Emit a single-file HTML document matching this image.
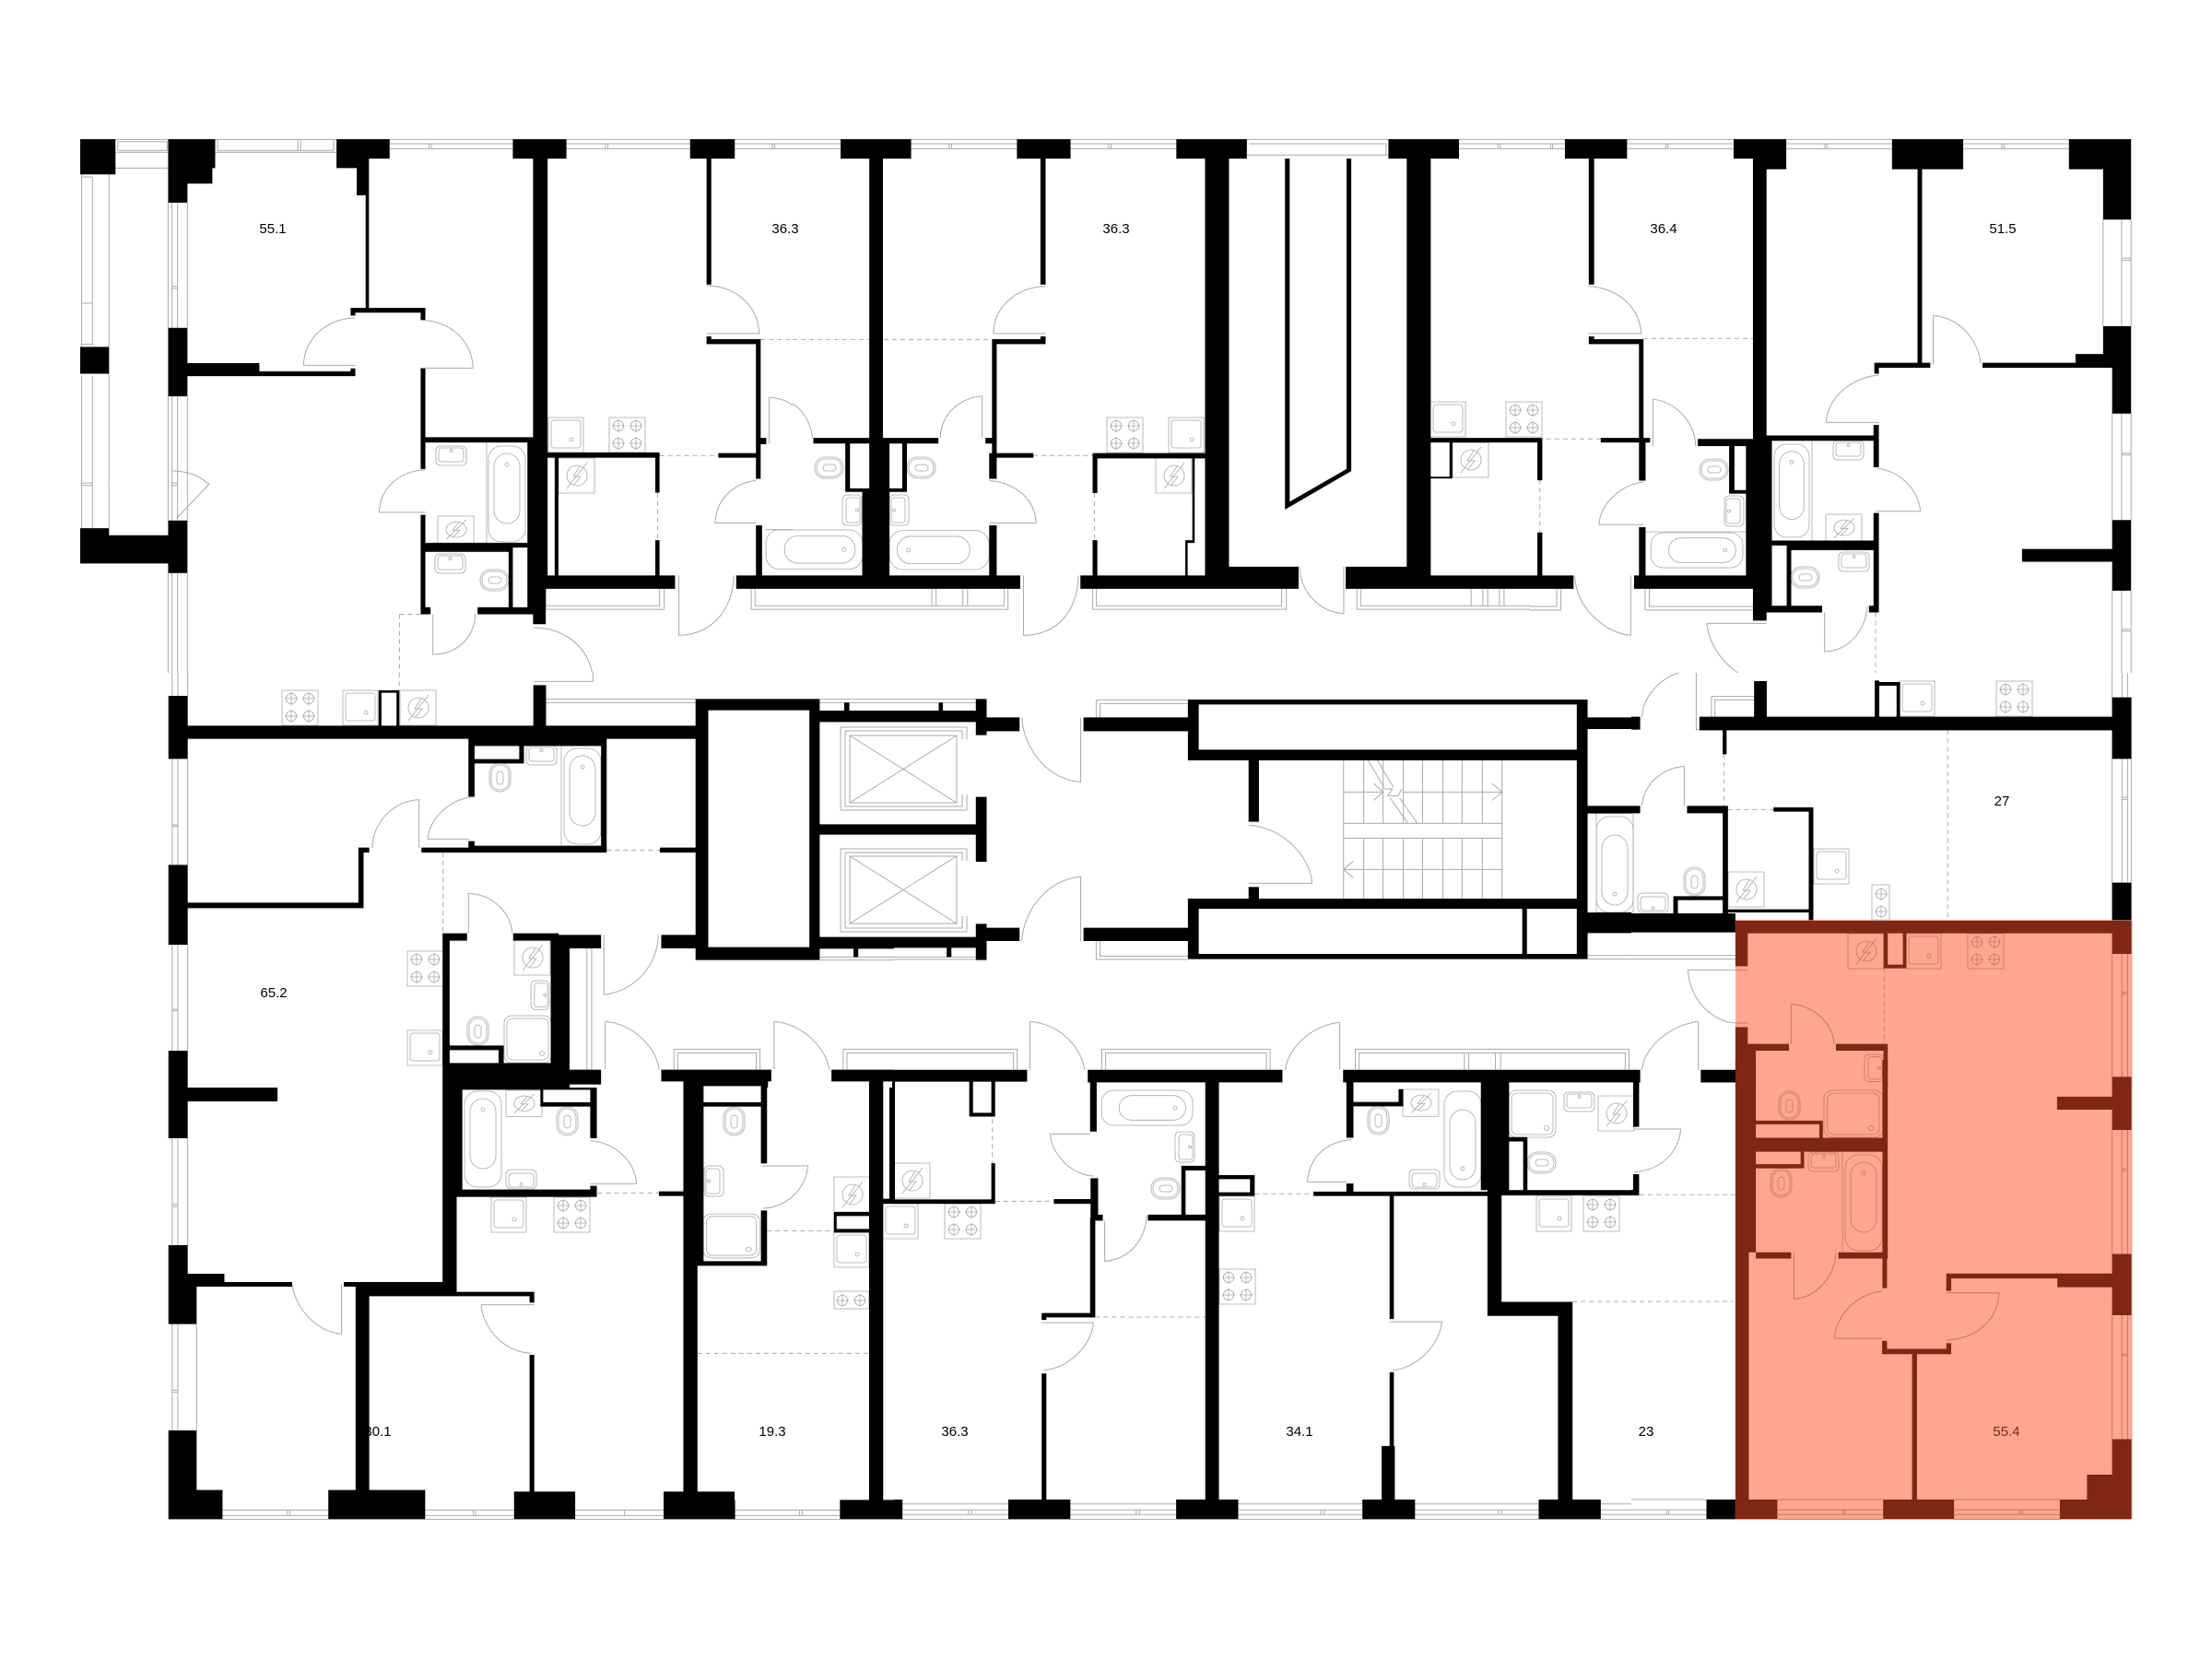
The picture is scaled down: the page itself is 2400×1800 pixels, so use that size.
<!DOCTYPE html>
<html><head><meta charset="utf-8"><style>
html,body{margin:0;padding:0;background:#fff}
svg{display:block}
svg *{vector-effect:non-scaling-stroke}
text{font-family:"Liberation Sans",sans-serif;font-size:15px;text-anchor:middle}
.l{fill:none;stroke:#aaa;stroke-width:1}
.d{fill:none;stroke:#aaa;stroke-width:1;stroke-dasharray:5 4}
.f{fill:none;stroke:#a8a8a8;stroke-width:.8}
.w{fill:#000;stroke:none}
.b{fill:#7f2714;stroke:none}
.rl{fill:none;stroke:#c97562;stroke-width:1}
.rd{fill:none;stroke:#c97562;stroke-width:1;stroke-dasharray:5 4}
.rf{fill:none;stroke:#c97562;stroke-width:.8}
</style></head><body>
<svg width="2400" height="1800" viewBox="0 0 2400 1800" xmlns="http://www.w3.org/2000/svg">
<defs>
<g id="br"><circle r="5.6"/><path d="M-7 0H7M0-7V7"/></g>
<g id="hob"><rect width="39" height="38"/><use href="#br" x="10" y="9"/><use href="#br" x="29" y="9"/><use href="#br" x="10" y="28"/><use href="#br" x="29" y="28"/></g>
<g id="sink"><rect width="38" height="38"/><rect x="3" y="3" width="32" height="30" rx="3"/><circle cx="25" cy="24" r="2"/></g>
<g id="el"><rect width="39" height="38"/><circle cx="20" cy="19" r="11"/><path d="M9 33L31 5M23 9L16 20H24L17 29"/></g>
<g id="wc"><rect width="31" height="23" rx="11"/><rect x="2" y="2" width="27" height="19" rx="9"/><rect x="9" y="8" width="14" height="7" rx="3.5"/></g>
<g id="bs"><rect width="33" height="21" rx="5"/><rect x="3" y="2" width="27" height="15" rx="3"/><circle cx="16.500" cy="5" r="1.500"/></g>
<g id="tub"><rect width="40" height="104" rx="14"/><rect x="6" y="8" width="28" height="76" rx="14"/><circle cx="20" cy="20" r="2"/></g>
<g id="sh"><rect width="51" height="51" rx="8"/><rect x="3" y="3" width="45" height="45" rx="6"/><circle cx="41" cy="41" r="2.500"/></g>
</defs>

<rect x="1883" y="998" width="430.500" height="650" fill="#ffa691"/>

<text x="296" y="253">55.1</text>
<text x="852" y="253">36.3</text>
<text x="1211" y="253">36.3</text>
<text x="1805" y="253">36.4</text>
<text x="2173" y="253">51.5</text>
<text x="297" y="1082">65.2</text>
<text x="410" y="1558">30.1</text>
<text x="838" y="1558">19.3</text>
<text x="1036" y="1558">36.3</text>
<text x="1410" y="1558">34.1</text>
<text x="1786" y="1558">23</text>
<text x="2172" y="874">27</text>
<text x="2177" y="1558" fill="#7f2714">55.4</text>

<!-- fixtures (global coords) -->
<g class="f">
<use href="#sink" x="595" y="453"/><use href="#hob" x="661" y="453"/><use href="#el" x="606" y="497"/>
<use href="#bs" x="473" y="484"/><use href="#wc" x="521" y="618"/><use href="#bs" x="472" y="601"/>
<use href="#tub" x="530" y="484"/><use href="#el" transform="translate(475,560) scale(1,.77)"/>
<path d="M528 480V589M468 589H578"/>

<use href="#hob" x="1201" y="453"/><use href="#sink" x="1268" y="453"/><use href="#el" x="1254" y="497"/>
<use href="#wc" x="884" y="496"/><use href="#wc" x="984" y="496"/>
<use href="#bs" transform="translate(935,537) rotate(90)"/><use href="#bs" transform="translate(965,570) rotate(-90)"/>
<use href="#tub" transform="translate(936,575) rotate(90) scale(1.060,1.010)"/><use href="#tub" transform="translate(965,618) rotate(-90) scale(1.060,1.040)"/>
<use href="#sink" x="1552" y="436"/><use href="#hob" x="1634" y="436"/><use href="#el" x="1576" y="480"/>

<use href="#wc" x="1844" y="498"/><use href="#wc" x="1943" y="615"/>
<use href="#bs" transform="translate(1871,571) rotate(-90)"/>
<use href="#tub" transform="translate(1891,578) rotate(90) scale(.950,.960)"/><use href="#tub" transform="translate(1925,482) scale(.950,.970)"/>
<use href="#bs" x="1989" y="478"/><use href="#bs" x="1995" y="599"/><use href="#el" transform="translate(1981,558) scale(1,.77)"/>
<path d="M1966 478V587M1785 577H1895"/>

<use href="#hob" x="306" y="749"/><use href="#sink" x="372" y="749"/><use href="#el" x="434" y="749"/>
<use href="#bs" x="571" y="809"/><use href="#tub" x="612" y="812" transform="translate(0,0)"/>
<use href="#wc" transform="translate(554,828) rotate(90)"/>
<path d="M609 809V917"/>
<use href="#hob" x="442" y="1032"/><use href="#sink" x="442" y="1118"/><use href="#el" x="558" y="1020"/>
<use href="#bs" transform="translate(596,1064) rotate(90) scale(.950,.950)"/><use href="#wc" transform="translate(530,1103) rotate(90)"/>
<use href="#sh" x="547" y="1102"/>

<use href="#tub" x="504" y="1184"/><use href="#el" transform="translate(549,1183) scale(1,.75)"/>
<use href="#wc" transform="translate(627,1201) rotate(90)"/><use href="#bs" transform="translate(582,1290) rotate(180)"/>
<use href="#sink" x="533" y="1299"/><use href="#hob" x="601" y="1299"/>
<use href="#wc" transform="translate(808,1201) rotate(90)"/><use href="#bs" transform="translate(764,1298) rotate(-90)"/>
<use href="#sh" transform="translate(763,1317) scale(1.200,.940)"/>
<use href="#el" x="905" y="1277"/><use href="#sink" x="905" y="1337"/>
<rect x="905" y="1401" width="38" height="19"/><use href="#br" x="914" y="1411"/><use href="#br" x="933" y="1411"/>

<use href="#el" x="970" y="1262"/><use href="#sink" x="958" y="1306"/><use href="#hob" x="1025" y="1306"/>
<use href="#tub" transform="translate(1294,1183) rotate(90) scale(.950,.950)"/>
<use href="#bs" transform="translate(1296,1228) rotate(90)"/><use href="#wc" x="1249" y="1278"/>
<use href="#sink" x="1323" y="1298"/><use href="#hob" x="1323" y="1377"/>
<use href="#el" transform="translate(1522,1182) scale(1,.77)"/><use href="#wc" transform="translate(1507,1200) rotate(90)"/>
<use href="#tub" transform="translate(1607,1288) rotate(180)"/><use href="#bs" transform="translate(1562,1290) rotate(180)"/>
<use href="#sh" x="1637" y="1183"/><use href="#bs" x="1697" y="1185"/><use href="#el" x="1734" y="1189"/>
<use href="#wc" x="1657" y="1250"/><use href="#sink" x="1667" y="1298"/><use href="#hob" x="1718" y="1298"/>

<use href="#tub" transform="translate(1772,990) rotate(180)"/><rect x="1732" y="882" width="40" height="108"/>
<use href="#sink" x="2061" y="739"/><use href="#hob" x="2166" y="739"/>
<use href="#sink" x="1968" y="921"/>
<rect x="2031" y="960" width="19" height="38"/><use href="#br" x="2041" y="970"/><use href="#br" x="2041" y="989"/>
<use href="#el" x="1875" y="946"/><use href="#wc" transform="translate(1850,941) rotate(90)"/><use href="#bs" transform="translate(1810,990) rotate(180)"/>
</g>

<!-- elevators -->
<g class="l">
<path d="M1049 802V789H912V879H1049V862M1044 802V793H917V875H1044V862"/>
<rect x="922" y="798" width="116" height="73"/><path d="M922 798L1038 871M1038 798L922 871"/>
<path d="M1049 934V921H912V1011H1049V994M1044 934V925H917V1007H1044V994"/>
<rect x="922" y="929" width="116" height="73"/><path d="M922 929L1038 1002M1038 929L922 1002"/>
</g>

<!-- red fixtures -->
<g class="rf">
<use href="#el" x="2005" y="1013"/><use href="#sink" x="2068" y="1013"/><use href="#hob" x="2135" y="1013"/>
<use href="#bs" transform="translate(2044,1144) rotate(90) scale(.900,1)"/>
<use href="#wc" transform="translate(1953,1184) rotate(90)"/>
<use href="#sh" transform="translate(1979,1183) scale(1.250,1)"/>
<use href="#bs" x="1962" y="1250"/><use href="#tub" x="2002" y="1253" /><use href="#wc" transform="translate(1944,1268) rotate(90)"/>
<path d="M1999 1250V1358"/>
</g>

<!-- crop 1 -->
<g transform="translate(60,130) scale(.5102,.38265)">
<path class="l" d="M128 56H240M128 92H240M133 62H238V87H133ZM114 137H240M114 137V1178M340 56H598M340 92H598M345 56V87H592V56M516 56V87M522 56V87M711 56H973M711 82H973M711 68H973M795 68V82M800 68V82M1087 56H1350M1087 82H1350M1087 68H1350M1170 68V82M1175 68V82M1445 56H1568M1445 68H1568M1445 82H1568M1530 68V82M1525 68V82M56 155V644M79 162V640M56 162H79M56 520H79M56 636H79M56 725V1158M79 725V1158M56 1030H79M56 1037H79M248 235V590M260 235V590M248 472H260M248 478H260M248 784V1136M260 784V1136M248 1030H260M248 1037H260M240 235V590M240 784V1136M248 1285V1568M260 1285V1568M281 235V590M281 784V1136M281 1285V1568M240 1285V1568M250 996C290 996 310 1015 327 1033L258 1130M638 562A110 135 0 0 0 528 696H638M777 568A110 135 0 0 1 888 704H777M787 993A98 120 0 0 0 689 1113H787M893 1400C893 1460 860 1515 803 1516V1402M1017 1440C1080 1440 1130 1490 1142 1568M1326 1292V1462C1390 1460 1440 1400 1443 1292M1385 470C1450 472 1495 530 1497 606H1385M1490 1023C1440 1030 1405 1080 1403 1143H1490M1518 787V918M1518 787C1545 790 1560 800 1568 810M1043 1330V1388H1295V1330M1043 1378H1285V1330M1480 1330V1388H1568M1488 1330V1378H1568M1510 1162H1568"/>
<path class="d" d="M1285 952H1410M1281 1057V1192M1500 623H1568M732 1402H777M732 1402V1568"/>
<path class="w" d="M53 55H128V155H53ZM53 644H114V720H53ZM53 1158H114V1258H53ZM114 1178H281V1258H114ZM240 1136H281V1285H240ZM240 55H340V137H240ZM240 137H334V181H240ZM240 181H281V235H240ZM240 590H281V784H240ZM281 690H434V727H281ZM434 713H638V727H434ZM628 705H638V727H628ZM598 55H711V110H598ZM598 110H667V137H598ZM641 137H667V214H641ZM660 214H667V533H660ZM628 533H787V547H628ZM628 533H638V555H628ZM777 533H787V567H777ZM777 705H787V990H777ZM777 900H1016V915H777ZM973 55H1087V110H973ZM1016 110H1047V958H1016ZM1004 915H1047V1292H1004ZM1016 1292H1043V1430H1016ZM1047 943H1285V958H1047ZM1062 958H1070V1292H1062ZM1276 958H1285V1057H1276ZM1276 1192H1285V1292H1276ZM1043 1292H1318V1330H1043ZM1004 1292H1043V1382H1004ZM777 1120H787V1382H777ZM787 1200H1004V1213H787ZM787 1213H973V1225H787ZM964 1225H973V1382H964ZM777 1382H798V1402H777ZM898 1382H1016V1402H898ZM1350 55H1445V110H1350ZM1385 110H1395V467H1385ZM1385 622H1500V636H1385ZM1385 614H1395V636H1385ZM1490 622H1500V1018H1490ZM1410 945H1490V958H1410ZM1490 902H1512V920H1490ZM1490 1150H1503V1292H1490ZM1448 1292H1568V1330H1448Z"/>
</g>

<!-- crop 2 -->
<g transform="translate(860,130) scale(.5102,.38265)">
<path class="l" d="M0 56H102M0 68H102M0 82H102M252 56H477M252 68H477M252 82H477M333 68V82M338 68V82M591 56H816M591 68H816M591 82H816M672 68V82M677 68V82M966 56H1267M966 100H1267M972 68H1262V100H972M1417 56H1568M1417 68H1568M1417 82H1568M1500 68V82M1505 68V82M458 1330V1388H0M450 1330V1378H0M296 1330V1378M305 1330V1378M362 1330V1378M372 1330V1378M638 1330V1388H1050V1330M646 1330V1378H1040V1330M1200 1330V1388H1568M1208 1330V1378H1568M1443 1330V1378M1468 1330V1378M1478 1330V1378M1503 1330V1378M1513 1330V1378M0 805C20 820 40 860 42 902M403 783C350 790 315 840 314 902M403 783V902M538 472C475 475 428 530 427 606H538M418 1023C480 1030 515 1080 518 1143H418M491 1292V1462C560 1460 605 1400 608 1292M1078 1267C1080 1340 1120 1395 1172 1400V1267"/>
<path class="d" d="M0 623H424M512 952H638M642 1058V1192"/>
<path class="w" d="M102 55H252V110H102ZM163 110H192V918H163ZM163 918H206V1045H163ZM148 1045H206V1292H148ZM44 902H310V918H44ZM112 918H122V1055H112ZM112 1045H148V1055H112ZM233 918H243V1055H233ZM206 1045H243V1055H206ZM0 1292H484V1330H0ZM477 55H591V110H477ZM527 110H538V467H527ZM424 622H538V636H424ZM527 614H538V636H527ZM424 622H434V958H424ZM418 945H434V1018H418ZM410 902H434V918H410ZM434 945H512V958H434ZM418 1150H434V1292H418ZM638 945H878V960H638ZM638 960H648V1058H638ZM638 1192H648V1292H638ZM612 1292H1076V1330H612ZM850 960H855V1195H850ZM835 1192H855V1200H835ZM835 1200H840V1292H835ZM877 110H928V1292H877ZM928 1267H1076V1292H928ZM816 55H966V110H816ZM1267 55H1417V110H1267ZM1306 110H1357V1292H1306ZM1176 1267H1357V1330H1176ZM1176 1292H1568V1330H1176ZM1357 902H1568V915H1357ZM1397 915H1403V1015H1397ZM1357 1012H1403V1017H1357ZM1047 110H1057V1083L1178 990V110H1188V996L1047 1105Z"/>
</g>

<!-- crop 3 -->
<g transform="translate(1660,130) scale(.4464,.38265)">
<path class="l" d="M0 56H85M0 68H85M0 82H85M55 68V82M50 68V82M236 56H495M236 68H495M236 82H495M330 68V82M335 68V82M623 56H880M623 68H880M623 82H880M717 68V82M722 68V82M1053 56H1310M1053 68H1310M1053 82H1310M1147 68V82M1152 68V82M1438 283V585M1461 283V585M1393 283V585M1438 392H1461M1438 398H1461M1415 833V1135M1438 833V1135M1461 833V1135M1438 945H1461M1438 950H1461M1415 1335V1568M1438 1335V1568M1461 1335V1568M1438 1445H1461M1438 1450H1461M142 472C210 475 268 530 270 606H142M980 555C1040 560 1090 620 1095 690M980 555V695M848 724C780 730 722 790 720 858H848M841 988C900 995 945 1050 949 1110H841M275 1027C220 1035 170 1090 168 1148H275M299 792C350 800 400 850 403 925M299 792V925M109 1292C110 1380 180 1455 245 1462V1292M716 1397V1508C775 1505 815 1450 820 1380M430 1428C435 1490 470 1540 505 1568M430 1428H575M280 1330V1390H543M290 1330V1380H543M75 1330V1390H0M65 1330V1380H0"/>
<path class="d" d="M275 620H542M40 905H172M24 1020V1170M840 1397V1568"/>
<path class="w" d="M85 55H236V110H85ZM143 110H156V467H143ZM143 614H156V636H143ZM143 622H276V636H143ZM265 636H276V915H265ZM172 902H292V915H172ZM265 915H281V1023H265ZM265 1155H281V1292H265ZM253 1292H543V1330H253ZM0 1292H106V1330H0ZM18 905H30V1022H18ZM0 902H30V915H0ZM18 1170H30V1292H18ZM495 55H623V110H495ZM542 110H623V140H542ZM542 140H575V1420H542ZM408 905H542V925H408ZM484 925H497V1060H484ZM484 1050H525V1060H484ZM525 925H575V1292H525ZM575 895H588V1378H575ZM575 895H848V910H575ZM835 865H848V985H835ZM835 1115H848V1397H835ZM588 1193H835V1207H588ZM624 1207H835V1220H624ZM624 1207H635V1378H624ZM575 1378H710V1397H575ZM824 1378H848V1397H824ZM880 55H1053V140H880ZM942 140H953V690H942ZM837 689H973V703H837ZM837 703H848V720H837ZM1100 689H1326V703H1100ZM1326 664H1415V703H1326ZM1393 585H1461V664H1393ZM1415 664H1461V833H1415ZM1310 55H1461V140H1310ZM1393 140H1461V283H1393ZM1415 1135H1461V1335H1415ZM1196 1217H1415V1253H1196Z"/>
</g>

<!-- crop 4 -->
<g transform="translate(170,730) scale(.5102,.33333)">
<path class="l" d="M33 0V75M45 0V75M66 0V75M33 280V625M45 280V625M66 280V625M33 495H45M33 500H45M33 885V1230M45 885V1230M66 885V1230M33 1095H45M33 1100H45M928 0V28H801M828 85H1146M828 97H1146M1410 86H1568M1410 97H1568M1410 925H1568M1410 935H1568M558 413C500 418 460 490 458 570M558 413V570M676 403C620 410 578 480 577 541H664M663 718C720 722 755 790 756 848M663 718V848M951 853V1047C1010 1040 1065 960 1067 853M954 1135C1010 1140 1065 1220 1068 1292M954 1135V1290M1313 1135C1370 1140 1425 1220 1430 1292M1313 1135V1290M1100 1292V1225H1283V1292M1108 1292V1237H1275V1292M1460 1292V1225H1568M1468 1292V1237H1568M915 897V1292M925 897V1292"/>
<path class="d" d="M957 577H1070M609 585V848M516 0V57"/>
<path class="w" d="M25 75H66V280H25ZM66 172H1146V215H66ZM801 40H828V172H801ZM472 57H478V172H472ZM472 57H516V65H472ZM510 57H516V172H510ZM663 215H676V403H663ZM663 215H957V238H663ZM771 238H781V295H771ZM663 281H781V295H663ZM945 215H957V585H945ZM663 563H957V585H663ZM663 548H676V563H663ZM563 569H663V585H563ZM1070 569H1146V585H1070ZM25 625H66V885H25ZM66 748H440V766H66ZM429 569H440V766H429ZM429 569H452V585H429ZM25 1230H66V1350H25ZM1146 85H1410V122H1146ZM1146 122H1173V893H1146ZM1388 122H1410V893H1388ZM1146 893H1410V935H1146ZM1410 123H1568V160H1410ZM1410 493H1568V527H1410ZM1410 860H1568V898H1410ZM1462 97H1473V123H1462ZM1482 898H1492V925H1482ZM1073 853H1146V897H1073ZM608 848H660V872H608ZM758 848H855V872H758ZM608 848H623V1350H608ZM855 853H945V897H855ZM838 870H878V1290H838ZM623 1213H738V1228H623ZM727 1228H738V1270H727ZM608 1270H878V1350H608ZM878 1292H945V1340H878ZM1073 1292H1307V1330H1073ZM1120 1330H1163V1350H1120ZM1285 1330H1300V1350H1285ZM1120 1330H1300V1345H1120ZM1435 1292H1568V1330H1435ZM1515 1330H1545V1350H1515Z"/>
</g>

<!-- crop 5 -->
<g transform="translate(170,1180) scale(.5102,.33333)">
<path class="l" d="M33 165V513M45 165V513M66 165V513M33 380H45M33 387H45M33 771V1116M45 771V1116M85 771V1116M33 985H45M33 992H45M922 173C980 180 1020 250 1020 313H922M288 640C295 720 340 795 393 802V640M690 707H803M690 707C695 790 740 860 797 865M1287 255H1385C1380 330 1340 390 1290 393M140 1375H365M140 1393H365M140 1405H365M278 1375V1393M283 1375V1393M571 1375H760M571 1393H760M571 1405H760M673 1375V1393M678 1375V1393M890 1375H1078M890 1393H1078M890 1405H1078M995 1375V1393M1230 1375H1453M1230 1393H1453M1230 1405H1453M1367 1375V1393M1373 1375V1393"/>
<path class="d" d="M938 343H1068M1298 466H1440M1150 865H1515"/>
<path class="w" d="M25 0H66V165H25ZM66 0H257V45H66ZM25 513H66V770H25ZM25 606H144V648H25ZM25 648H85V770H25ZM144 633H288V648H144ZM398 633H428V648H398ZM423 648H452V1310H423ZM423 633H638V679H423ZM608 0H638V665H608ZM638 665H803V679H638ZM793 665H803V700H793ZM793 870H803V1315H793ZM25 1310H140V1405H25ZM25 1116H85V1310H25ZM365 1310H571V1405H365ZM760 1315H890V1405H760ZM1078 1315H1229V1405H1078ZM1120 0H1150V1342H1120ZM1150 1342H1230V1405H1150ZM1453 1342H1568V1405H1453ZM1515 0H1545V1342H1515ZM608 0H650V332H608ZM608 332H936V356H608ZM650 0H936V7H650ZM922 0H936V165H922ZM816 48H936V62H816ZM816 7H822V62H816ZM922 320H936V356H922ZM1068 338H1120V353H1068ZM1150 0H1163V565H1150ZM1285 0H1298V247H1285ZM1163 48H1285V62H1163ZM1285 400H1298V580H1285ZM1150 565H1298V580H1150ZM1440 405H1446V472H1440ZM1440 405H1515V418H1440ZM1440 460H1515V472H1440ZM1545 362H1568V378H1545ZM1558 0H1568V362H1558Z"/>
</g>

<!-- crop 6 -->
<g transform="translate(970,730) scale(.5102,.33333)">
<path class="l" d="M430 145V88H625M438 145V100H625M430 873V933H625M438 873V922H625M0 86H174M0 97H174M0 925H174M0 933H174M1475 920H1568M1475 932H1568M272 145C275 250 330 350 397 355V145M272 873C275 770 330 670 397 664V873M754 496C820 500 885 590 889 685H754M289 1135C350 1140 400 1220 405 1292M289 1135V1292M948 1138C890 1145 838 1220 832 1292M948 1138V1292M0 1225H262V1292M0 1237H254V1292M442 1292V1225H800V1292M450 1292V1237H792V1292M981 1292V1225H1563V1292M989 1292V1237H1555V1292M1213 1237V1292M1222 1237V1292M1279 1237V1292M1290 1237V1292M956 285V735M999 285V490M999 538V735M1040 285V490M1040 538V735M1083 285V490M1083 538V735M1124 285V490M1124 538V735M1167 285V490M1167 538V735M1208 285V490M1208 538V735M1251 285V490M1251 538V735M1293 285V735M956 490H1293M956 538H1293M956 388H1040M1083 388H1293M956 640H1293M1272 360L1293 388L1272 415M1020 360L1040 388L1020 415M977 612L956 640L977 668M1008 285L1042 372M1028 285L1062 372M1055 407L1093 490M1075 407L1113 490M1042 378H1060L1050 400H1072L1080 378"/>
<path class="w" d="M174 85H197V203H174ZM0 123H174V160H0ZM197 145H267V190H197ZM403 145H625V190H403ZM625 87H1475V103H625ZM625 103H648V285H625ZM648 250H1452V285H648ZM1452 103H1475V930H1452ZM1475 145H1568V183H1475ZM1475 433H1568V458H1475ZM174 404H197V615H174ZM0 493H174V527H0ZM754 285H776V485H754ZM754 697H776V735H754ZM625 735H1475V768H625ZM625 768H648V932H625ZM1336 768H1346V915H1336ZM648 915H1475V932H648ZM1452 780H1568V847H1452ZM197 830H267V873H197ZM403 830H625V873H403ZM174 817H197V935H174ZM0 860H174V895H0ZM95 97H104V123H95ZM112 895H122V925H112Z"/>
</g>

<!-- crop 7 -->
<g transform="translate(970,1150) scale(.5102,.33784)">
<path class="l" d="M332 238H417M332 238C337 310 380 370 425 373M448 516V647C500 640 535 580 537 500M314 844H424C420 920 370 990 318 997M1054 841H1165C1160 920 1110 990 1060 997M972 256C910 265 882 325 879 392H962M18 1426H243M18 1445H243M18 1460H243M18 1475H243M158 1445V1460M165 1445V1460M375 1426H600M375 1445H600M375 1460H600M375 1475H600M515 1445V1460M522 1445V1460M732 1426H996M732 1445H996M732 1460H996M732 1475H996M908 1445V1460M915 1445V1460M1108 1426H1371M1108 1445H1371M1108 1460H1371M1108 1475H1371M1285 1445V1460M1292 1445V1460M1503 1426H1568M1503 1445H1568M1503 1460H1568M1503 1475H1568"/>
<path class="d" d="M215 454H340M209 190V332M428 826H662M767 430H892M1443 776H1568"/>
<path class="w" d="M0 32H283V70H0ZM160 70H168V182H160ZM207 70H215V182H207ZM160 170H215V182H160ZM207 332H215V462H207ZM0 448H215V462H0ZM-4 70H2V462H-4ZM412 32H826V72H412ZM417 72H431V230H417ZM662 72H691V1412H662ZM611 340H620V497H611ZM611 340H662V355H611ZM540 497H662V516H540ZM418 380H434V516H418ZM429 497H444V516H429ZM417 507H428V825H417ZM340 447H418V462H340ZM314 813H428V827H314ZM314 813H324V835H314ZM314 1007H324V1412H314ZM243 1412H375V1475H243ZM600 1412H732V1475H600ZM691 370H767V383H691ZM757 370H767V437H757ZM691 425H767V437H691ZM955 32H1568V72H955ZM962 72H977V250H962ZM977 135H1083V149H977ZM1073 94H1083V149H1073ZM1248 72H1308V418H1248ZM1262 418H1292V822H1262ZM1262 777H1443V822H1262ZM1412 822H1443V1412H1412ZM892 423H1262V437H892ZM962 397H977V423H962ZM1292 418H1568V435H1292ZM1308 248H1347V262H1308ZM1338 262H1347V418H1338ZM1054 437H1063V832H1054ZM1054 1003H1063V1240H1054ZM1037 1240H1065V1412H1037ZM996 1412H1108V1475H996ZM1371 1412H1503V1475H1371ZM0 1412H18V1475H0Z"/>
</g>

<!-- crop 8 -->
<g transform="translate(1770,730) scale(.38265,.33333)">
<path class="l" d="M30 143C35 60 100 10 135 0M184 0V185H193M227 143V77H348M237 143V88H348M150 304C80 312 33 370 30 433M150 304V433M190 1135C110 1145 35 1220 30 1293M190 1135V1293M296 967H160C165 1060 225 1135 296 1140M0 920H296M0 932H296M1363 280V683M1391 280V683M1407 280V683M1418 280V683M1391 405H1407M1391 412H1407M1363 0V80M1391 0V80M1407 0V80"/>
<path class="d" d="M263 265V433M273 445H403M897 187V805"/>
<path class="rl" d="M296 967H330M296 1140H330M453 1078C520 1085 570 1140 575 1208M453 1078V1208M1363 915V1315M1391 915V1315M1407 915V1315M1391 1040H1407M1391 1046H1407"/>
<path class="rd" d="M717 962V1208"/>
<path class="w" d="M1363 80H1418V280H1363ZM193 143H1363V187H193ZM348 27H384V143H348ZM690 25H703V143H690ZM690 30H762V42H690ZM752 30H762V143H752ZM259 187H270V265H259ZM1363 683H1418V805H1363ZM0 143H25V185H0ZM0 433H25V457H0ZM158 433H273V457H158ZM259 433H274V805H259ZM0 783H295V845H0ZM403 438H516V452H403ZM503 438H516V805H503ZM274 770H503V780H274ZM119 727H132V783H119ZM119 727H260V740H119ZM197 1293H295V1333H197ZM0 1293H25V1333H0Z"/>
<path class="b" d="M295 807H1418V848H295ZM295 848H330V955H295ZM1363 848H1418V915H1363ZM715 848H727V960H715ZM770 848H780V960H770ZM715 950H780V962H715ZM295 1153H330V1350H295ZM330 1230H353V1350H330ZM330 1208H447V1230H330ZM580 1208H727V1230H580ZM715 1230H727V1350H715ZM1363 1315H1418V1350H1363Z"/>
</g>

<!-- crop 9 -->
<g transform="translate(1770,1150) scale(.38265,.33784)">
<path class="l" d="M6 222H140C135 300 80 355 8 360M0 1412H213M0 1445H213M0 1460H213M0 1475H213M100 1445V1460M106 1445V1460"/>
<path class="d" d="M0 433H295M0 776H287"/>
<path class="rl" d="M711 743C640 750 580 820 576 894H711M893 748H1042C1040 830 985 895 893 900M580 618C578 690 530 762 461 768V618M414 1412H714M414 1445H714M414 1460H714M414 1475H714M600 1445V1460M606 1445V1460M915 1412H1215M915 1445H1215M915 1460H1215M915 1475H1215M1102 1445V1460M1108 1445V1460M1363 225V623M1391 225V623M1407 225V623M1391 350H1407M1391 356H1407M1363 820V1218M1391 820V1218M1407 820V1218M1391 945H1407M1391 951H1407"/>
<path class="w" d="M0 32H25V70H0ZM197 32H295V72H197ZM5 70H22V215H5ZM5 367H22V435H5ZM0 417H22V435H0ZM213 1412H295V1475H213Z"/>
<path class="b" d="M295 0H353V618H295ZM295 618H333V1475H295ZM353 618H453V638H353ZM587 618H727V638H587ZM712 0H727V638H712ZM712 638H725V733H712ZM353 250H712V295H353ZM353 195H543V207H353ZM533 207H543V250H533ZM480 295H490V348H480ZM353 335H490V348H353ZM1363 55H1418V225H1363ZM1207 118H1363V160H1207ZM1363 623H1418V820H1363ZM893 686H1363V702H893ZM1208 702H1363V730H1208ZM893 702H907V742H893ZM711 902H725V945H711ZM711 928H907V945H711ZM893 910H907V945H893ZM796 945H810V1412H796ZM1363 1218H1418V1475H1363ZM1292 1332H1363V1475H1292ZM1215 1412H1292V1475H1215ZM295 1412H414V1475H295ZM714 1412H915V1475H714Z"/>
</g>
</svg>
</body></html>
